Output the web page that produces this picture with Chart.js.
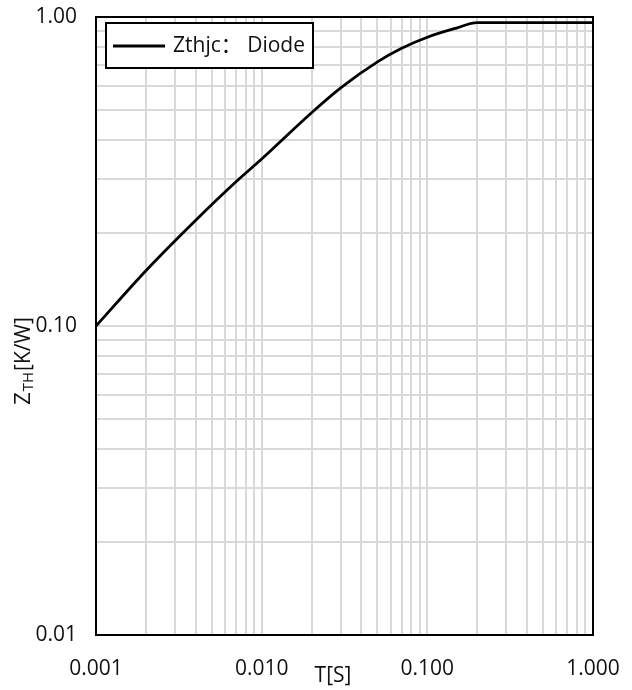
<!DOCTYPE html>
<html>
<head>
<meta charset="utf-8">
<script src="https://cdn.jsdelivr.net/npm/chart.js@4.4.1/dist/chart.umd.min.js"></script>
<style>
  html, body { margin: 0; padding: 0; background: #fff; }
</style>
</head>
<body>
<canvas id="zth" width="632" height="690"></canvas>
<script>
// values (log-log)
const timeS     = [0.001, 0.002, 0.004, 0.007, 0.01, 0.02, 0.03, 0.05, 0.07, 0.1, 0.15, 0.2, 1.0];
const zthDiode  = [0.100, 0.151, 0.220, 0.293, 0.347, 0.490, 0.590, 0.716, 0.792, 0.860, 0.921, 0.959, 0.959];
const xMajorTicks = [0.001, 0.01, 0.1, 1];
const yMajorTicks = [0.01, 0.1, 1];
const minorSteps  = [2, 3, 4, 5, 6, 7, 8, 9];
const seriesLabel = 'Zthjc： Diode';
const xTitle = 'T[S]';
const yTitle = ['Z', 'TH', '[K/W]'];

const FONT = "'Open Sans', 'Noto Sans CJK SC', sans-serif";
const TEXT = '#111';
const GRID = '#d9d9d9';

function logGrid(majors) {
    const out = [];
    majors.forEach((m, i) => {
        out.push(m);
        if (i < majors.length - 1) minorSteps.forEach(s => out.push(+(m * s).toPrecision(3)));
    });
    return out;
}
const xGrid = logGrid(xMajorTicks);
const yGrid = logGrid(yMajorTicks);

const framePlugin = {
    id: 'frame',
    afterDraw(chart) {
        const { ctx, chartArea: a } = chart;
        ctx.save();
        // plot border
        ctx.strokeStyle = '#000';
        ctx.lineWidth = 2;
        ctx.strokeRect(a.left, a.top, a.right - a.left, a.bottom - a.top);

        // legend box inside the plot
        ctx.fillStyle = '#fff';
        ctx.fillRect(106, 23, 207, 45);
        ctx.strokeRect(106, 23, 207, 45);
        const ds = chart.data.datasets[0];
        ctx.beginPath();
        ctx.moveTo(113, 46);
        ctx.lineTo(165, 46);
        ctx.strokeStyle = ds.borderColor;
        ctx.lineWidth = ds.borderWidth;
        ctx.stroke();
        ctx.fillStyle = TEXT;
        ctx.font = `21px ${FONT}`;
        ctx.textBaseline = 'middle';
        ctx.textAlign = 'left';
        ctx.fillText(ds.label, 173, 46);

        // x title
        ctx.textAlign = 'center';
        ctx.fillText(xTitle, 333, 676);

        // y title with subscript
        ctx.translate(24, 361);
        ctx.rotate(-Math.PI / 2);
        ctx.textAlign = 'left';
        const gap = 1;
        ctx.font = `22px ${FONT}`;
        const w0 = ctx.measureText(yTitle[0]).width;
        ctx.font = `21px ${FONT}`;
        const w2 = ctx.measureText(yTitle[2]).width;
        ctx.font = `15px ${FONT}`;
        const w1 = ctx.measureText(yTitle[1]).width;
        let x = -(w0 + w1 + w2 + 2 * gap) / 2;
        ctx.font = `22px ${FONT}`;
        ctx.fillText(yTitle[0], x, 0);
        x += w0 + gap;
        ctx.font = `15px ${FONT}`;
        ctx.fillText(yTitle[1], x, 5);
        x += w1 + gap;
        ctx.font = `21px ${FONT}`;
        ctx.fillText(yTitle[2], x, 0);
        ctx.restore();
    }
};

new Chart(document.getElementById('zth'), {
    type: 'line',
    data: {
        datasets: [{
            label: seriesLabel,
            data: timeS.map((t, i) => ({ x: t, y: zthDiode[i] })),
            borderColor: '#000',
            borderWidth: 2.8,
            pointRadius: 0,
            fill: false,
            cubicInterpolationMode: 'monotone'
        }]
    },
    options: {
        responsive: false,
        animation: false,
        layout: { padding: { top: 17, right: 39, left: 0, bottom: 0 } },
        plugins: { legend: { display: false }, tooltip: { enabled: false } },
        scales: {
            x: {
                type: 'logarithmic', min: 0.001, max: 1,
                afterBuildTicks: s => { s.ticks = xGrid.map(v => ({ value: v })); },
                afterFit: s => { s.height = 55; s.paddingLeft = 0; s.paddingRight = 0; },
                ticks: {
                    autoSkip: false, maxRotation: 0, padding: 21, color: TEXT,
                    font: { family: FONT, size: 21 },
                    callback: v => xMajorTicks.includes(v) ? v.toFixed(3) : ''
                },
                grid: { color: GRID, lineWidth: 2, drawTicks: false },
                border: { display: false }
            },
            y: {
                type: 'logarithmic', min: 0.01, max: 1,
                afterBuildTicks: s => { s.ticks = yGrid.map(v => ({ value: v })); },
                afterFit: s => { s.width = 96; s.paddingTop = 0; s.paddingBottom = 0; },
                ticks: {
                    autoSkip: false, padding: 19, color: TEXT,
                    font: { family: FONT, size: 21 },
                    callback: v => yMajorTicks.includes(v) ? v.toFixed(2) : ''
                },
                grid: { color: GRID, lineWidth: 2, drawTicks: false },
                border: { display: false }
            }
        }
    },
    plugins: [framePlugin]
});
</script>
</body>
</html>
